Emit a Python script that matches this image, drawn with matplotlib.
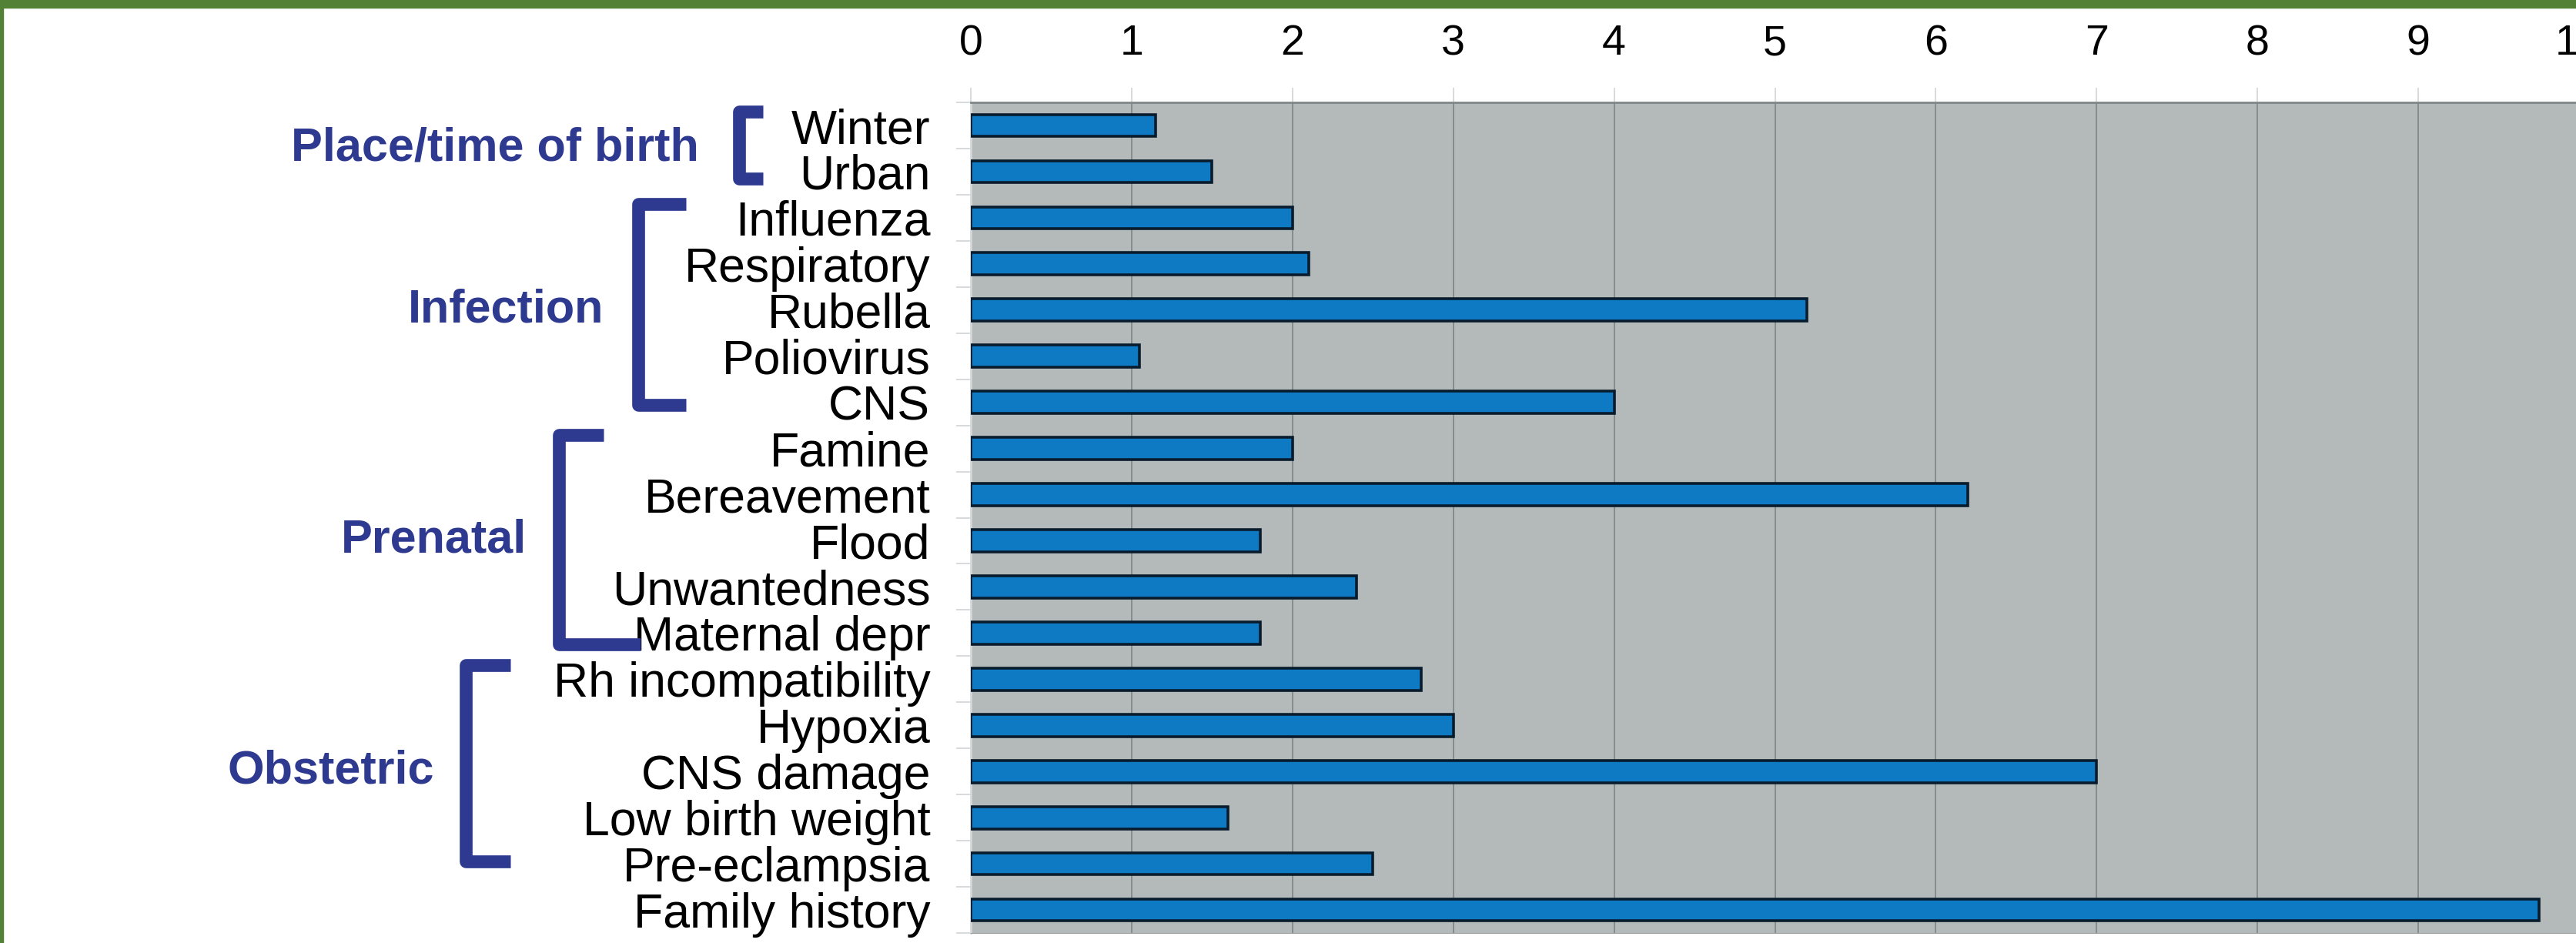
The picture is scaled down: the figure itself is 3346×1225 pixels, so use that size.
import numpy as np
import matplotlib
matplotlib.use("Agg")
import matplotlib.pyplot as plt
import matplotlib.transforms as mtransforms
from matplotlib.patches import Rectangle

plt.rcParams['font.family'] = ['Liberation Sans', 'DejaVu Sans']

# categories (top to bottom) and relative risk values
factors = ["Winter", "Urban", "Influenza", "Respiratory", "Rubella", "Poliovirus",
           "CNS", "Famine", "Bereavement", "Flood", "Unwantedness", "Maternal depr",
           "Rh incompatibility", "Hypoxia", "CNS damage", "Low birth weight",
           "Pre-eclampsia", "Family history"]
risk = [1.15, 1.5, 2.0, 2.1, 5.2, 1.05, 4.0, 2.0, 6.2, 1.8, 2.4, 1.8,
        2.8, 3.0, 7.0, 1.6, 2.5, 9.75]

# groups: name, first index, last index
group_names = ["Place/time of birth", "Infection", "Prenatal", "Obstetric"]
group_first = [0, 2, 7, 12]
group_last = [1, 6, 11, 16]

x_ticks = list(range(0, 11))

# style for the group brackets (figure fraction x positions)
bracket_x = [0.2869, 0.2478, 0.2170, 0.1808]
bracket_tip = [0.2962, 0.2663, 0.2343, 0.1981]
bracket_bottom_tip = [0.2962, 0.2663, 0.2487, 0.1981]
label_right = [0.2714, 0.2343, 0.2044, 0.1686]
bottom_off = [0.15, 0.05, 0.25, -0.05]

navy = "#2e3990"

fig = plt.figure(figsize=(33.46, 12.25), dpi=100)
fig.patch.set_facecolor("white")

ax = fig.add_axes([0.3769, 0.0106, 0.6243, 0.8808])
ax.set_facecolor("#b4baba")

y = np.arange(len(factors))
ax.barh(y, risk, height=0.48, color="#0e7ac4", edgecolor="#081c2e",
        linewidth=2.6, zorder=3)

ax.set_xlim(0, 10)
ax.set_ylim(len(factors) - 0.5, -0.5)

ax.xaxis.tick_top()
ax.set_xticks(x_ticks)
ax.set_xticklabels([str(t) for t in x_ticks], fontsize=40)
ax.tick_params(axis="x", length=14, width=1.2, color="#d0d4d4", pad=22)
ax.grid(axis="x", color="#7c8585", linewidth=1.2, zorder=1)

ax.set_yticks(y)
ax.set_yticklabels(factors, fontsize=45)
ax.tick_params(axis="y", length=0, pad=38)
ax.set_yticks(np.arange(len(factors) + 1) - 0.5, minor=True)
ax.tick_params(axis="y", which="minor", length=14, width=1.2, color="#d0d4d4")

ax.spines["top"].set_color("#7f8787")
ax.spines["top"].set_linewidth(2)
ax.spines["left"].set_color("#d4d8d8")
ax.spines["left"].set_linewidth(2)
ax.spines["bottom"].set_color("#9aa0a0")
ax.spines["right"].set_visible(False)

# group brackets and labels
trans = mtransforms.blended_transform_factory(fig.transFigure, ax.transData)
for i, name in enumerate(group_names):
    top = group_first[i] - 0.3
    bot = group_last[i] + bottom_off[i]
    xs = [bracket_tip[i], bracket_x[i], bracket_x[i], bracket_bottom_tip[i]]
    ys = [top, top, bot, bot]
    ax.plot(xs, ys, transform=trans, color=navy, linewidth=12,
            solid_joinstyle="round", solid_capstyle="butt", clip_on=False)
    mid = (group_first[i] + group_last[i]) / 2
    ax.text(label_right[i], mid, name, transform=trans, ha="right", va="center",
            fontsize=44, fontweight="bold", color=navy)

# green frame at top and left
fig.patches.append(Rectangle((0, 1 - 10 / 1225), 1, 10 / 1225, transform=fig.transFigure,
                             color="#538135", zorder=10))
fig.patches.append(Rectangle((0, 0), 4 / 3346, 1, transform=fig.transFigure,
                             color="#538135", zorder=10))

fig.savefig("out.png", dpi=100)
